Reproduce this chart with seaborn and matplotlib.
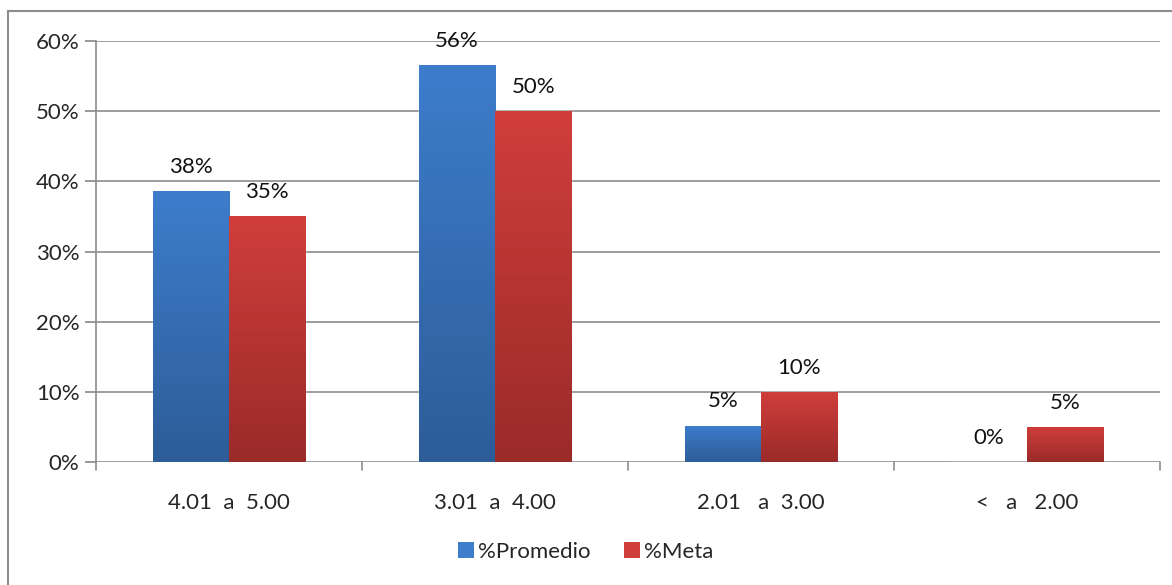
import numpy as np
import pandas as pd
import matplotlib.pyplot as plt
import matplotlib.colors as mcolors
import seaborn as sns
from matplotlib.patches import Rectangle, Patch

categories = ['4.01  a  5.00', '3.01  a  4.00', '2.01   a  3.00', '<   a   2.00']
promedio = [38.6, 56.6, 5.2, 0.0]
meta = [35.0, 50.0, 10.0, 5.0]
promedio_labels = ['38%', '56%', '5%', '0%']
meta_labels = ['35%', '50%', '10%', '5%']

df = pd.DataFrame({
    'Rango': categories * 2,
    'Valor': promedio + meta,
    'Serie': ['%Promedio'] * 4 + ['%Meta'] * 4,
})

sns.set_style('white')
plt.rcParams['font.family'] = ['Lato', 'DejaVu Sans']
FS = 16

blue_top, blue_bot = '#3d7dcc', '#2d5d98'
red_top, red_bot = '#d03e3b', '#9a2b29'

fig = plt.figure(figsize=(11.72, 5.85), dpi=100)
ax = fig.add_axes([96 / 1172, 1 - 462 / 585, 1064 / 1172, 421 / 585])

sns.barplot(data=df, x='Rango', y='Valor', hue='Serie', ax=ax,
            palette={'%Promedio': blue_top, '%Meta': red_top},
            width=0.575, gap=0, saturation=1, legend=False)

# gradient fill on the bars
grads = {
    'b': mcolors.LinearSegmentedColormap.from_list('b', [blue_bot, blue_top]),
    'r': mcolors.LinearSegmentedColormap.from_list('r', [red_bot, red_top]),
}
for i, p in enumerate(ax.patches):
    h = p.get_height()
    if h <= 0:
        continue
    x0 = p.get_x()
    w = p.get_width()
    cmap = grads['b'] if i < 4 else grads['r']
    g = np.linspace(0, 1, 100).reshape(-1, 1)
    im = ax.imshow(g, cmap=cmap, origin='lower', aspect='auto',
                   extent=(x0, x0 + w, 0, h), zorder=p.get_zorder() + 0.1)
    im.set_clip_path(p)

ax.set_xlim(-0.5, 3.5)
ax.set_ylim(0, 60)
ax.set_yticks(range(0, 61, 10))
ax.set_yticklabels([f'{v}%' for v in range(0, 61, 10)], fontsize=FS)
ax.set_xticks(range(4))
ax.set_xticklabels(categories, fontsize=FS)
ax.tick_params(axis='x', length=0, pad=22)
ax.tick_params(axis='y', length=8, color='#888888', width=1.2, pad=4, left=True)
ax.set_xlabel('')
ax.set_ylabel('')

ax.yaxis.grid(True, color='#8c8c8c', linewidth=1.2)
ax.set_axisbelow(True)
for s in ['top', 'right', 'bottom']:
    ax.spines[s].set_visible(False)
ax.spines['left'].set_color('#8c8c8c')
ax.spines['left'].set_linewidth(1.2)

# category separator ticks on the baseline
for xb in [-0.5, 0.5, 1.5, 2.5, 3.5]:
    ax.plot([xb, xb], [0, -1.1], color='#8c8c8c', lw=1.2, clip_on=False)

# value labels
for i in range(4):
    pb = ax.patches[i]
    pr = ax.patches[4 + i]
    ax.text(pb.get_x() + pb.get_width() / 2, promedio[i] + 2.0, promedio_labels[i],
            ha='center', va='bottom', fontsize=FS, color='#111111')
    ax.text(pr.get_x() + pr.get_width() / 2, meta[i] + 2.0, meta_labels[i],
            ha='center', va='bottom', fontsize=FS, color='#111111')

# legend
handles = [Patch(facecolor=blue_top, edgecolor='none'), Patch(facecolor=red_top, edgecolor='none')]
fig.legend(handles, ['%Promedio', '%Meta'], loc='center', bbox_to_anchor=(0.5, 1 - 552 / 585),
           ncol=2, frameon=False, fontsize=FS, handlelength=0.7, handleheight=0.7,
           handletextpad=0.2, columnspacing=1.5)

# outer chart border
fig.patches.append(Rectangle((8 / 1172, -0.1), 1.2, 1 - 11 / 585 + 0.1,
                             transform=fig.transFigure, fill=False,
                             edgecolor='#8c8c8c', linewidth=1.5))

fig.savefig('out.png', dpi=100, facecolor='white')
